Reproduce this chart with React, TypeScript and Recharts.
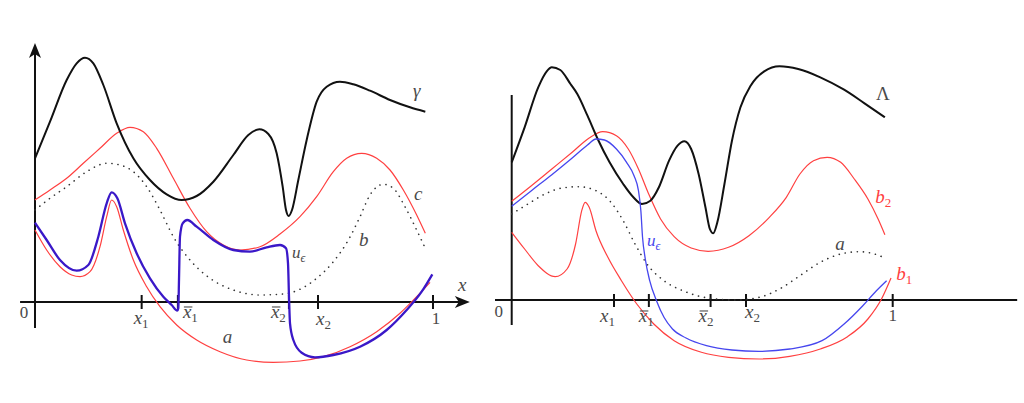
import React from 'react';
import { LineChart, Line, XAxis, YAxis, ReferenceLine, ReferenceDot } from 'recharts';

// ---------- data (left panel) ----------
const leftGamma = [
  { x: 0, y: 1.437 }, { x: 0.0377, y: 1.803 }, { x: 0.0796, y: 2.22 }, { x: 0.1047, y: 2.387 },
  { x: 0.1256, y: 2.443 }, { x: 0.1466, y: 2.387 }, { x: 0.1717, y: 2.17 }, { x: 0.2052, y: 1.787 },
  { x: 0.2471, y: 1.437 }, { x: 0.2889, y: 1.22 }, { x: 0.3308, y: 1.077 }, { x: 0.3685, y: 1.02 },
  { x: 0.4062, y: 1.06 }, { x: 0.4481, y: 1.203 }, { x: 0.4983, y: 1.47 }, { x: 0.536, y: 1.67 },
  { x: 0.5637, y: 1.727 }, { x: 0.5863, y: 1.68 }, { x: 0.6072, y: 1.487 }, { x: 0.6223, y: 1.153 },
  { x: 0.6307, y: 0.92 }, { x: 0.6374, y: 0.86 }, { x: 0.6457, y: 0.92 }, { x: 0.6616, y: 1.22 },
  { x: 0.6826, y: 1.62 }, { x: 0.7077, y: 2.003 }, { x: 0.7328, y: 2.153 }, { x: 0.7663, y: 2.203 },
  { x: 0.7998, y: 2.177 }, { x: 0.8417, y: 2.113 }, { x: 0.892, y: 2.02 }, { x: 0.9422, y: 1.947 },
  { x: 0.9807, y: 1.903 },
];
const leftC = [
  { x: 0, y: 1.02 }, { x: 0.0377, y: 1.12 }, { x: 0.0796, y: 1.237 }, { x: 0.1214, y: 1.387 },
  { x: 0.1633, y: 1.537 }, { x: 0.2052, y: 1.687 }, { x: 0.2387, y: 1.747 }, { x: 0.2722, y: 1.703 },
  { x: 0.3057, y: 1.537 }, { x: 0.3476, y: 1.237 }, { x: 0.3894, y: 0.937 }, { x: 0.4313, y: 0.703 },
  { x: 0.4732, y: 0.57 }, { x: 0.5151, y: 0.52 }, { x: 0.5653, y: 0.553 }, { x: 0.6156, y: 0.68 },
  { x: 0.6658, y: 0.853 }, { x: 0.7077, y: 1.053 }, { x: 0.7496, y: 1.303 }, { x: 0.7831, y: 1.437 },
  { x: 0.8208, y: 1.487 }, { x: 0.8585, y: 1.437 }, { x: 0.892, y: 1.32 }, { x: 0.9255, y: 1.12 },
  { x: 0.959, y: 0.87 }, { x: 0.9807, y: 0.687 },
];
const leftB = [
  { x: 0, y: 0.92 }, { x: 0.0377, y: 1.037 }, { x: 0.0796, y: 1.153 }, { x: 0.1298, y: 1.303 },
  { x: 0.1801, y: 1.387 }, { x: 0.2136, y: 1.37 }, { x: 0.2471, y: 1.303 }, { x: 0.2806, y: 1.153 },
  { x: 0.3141, y: 0.92 }, { x: 0.3476, y: 0.653 }, { x: 0.3894, y: 0.42 }, { x: 0.4397, y: 0.237 },
  { x: 0.4983, y: 0.12 }, { x: 0.5653, y: 0.07 }, { x: 0.624, y: 0.08 }, { x: 0.6658, y: 0.127 },
  { x: 0.7077, y: 0.237 }, { x: 0.7496, y: 0.403 }, { x: 0.7873, y: 0.62 }, { x: 0.8166, y: 0.853 },
  { x: 0.8417, y: 1.07 }, { x: 0.8752, y: 1.177 }, { x: 0.9003, y: 1.137 }, { x: 0.9296, y: 0.953 },
  { x: 0.959, y: 0.72 }, { x: 0.9807, y: 0.537 },
];
const leftA = [
  { x: 0, y: 0.72 }, { x: 0.0293, y: 0.52 }, { x: 0.0628, y: 0.353 }, { x: 0.0921, y: 0.27 },
  { x: 0.1131, y: 0.253 }, { x: 0.1382, y: 0.303 }, { x: 0.1633, y: 0.553 }, { x: 0.1801, y: 0.853 },
  { x: 0.1926, y: 1.02 }, { x: 0.2052, y: 0.953 }, { x: 0.2219, y: 0.72 }, { x: 0.2471, y: 0.42 },
  { x: 0.2806, y: 0.153 }, { x: 0.3141, y: -0.047 }, { x: 0.356, y: -0.23 }, { x: 0.4062, y: -0.38 },
  { x: 0.4648, y: -0.497 }, { x: 0.5318, y: -0.58 }, { x: 0.5988, y: -0.603 }, { x: 0.6658, y: -0.59 },
  { x: 0.7245, y: -0.547 }, { x: 0.7915, y: -0.447 }, { x: 0.8585, y: -0.297 }, { x: 0.9171, y: -0.113 },
  { x: 0.959, y: 0.053 }, { x: 0.9925, y: 0.197 },
];
const leftU = [
  { x: 0, y: 0.793 }, { x: 0.0293, y: 0.62 }, { x: 0.0628, y: 0.42 }, { x: 0.1047, y: 0.313 },
  { x: 0.134, y: 0.37 }, { x: 0.1591, y: 0.653 }, { x: 0.1801, y: 0.987 }, { x: 0.1926, y: 1.097 },
  { x: 0.2069, y: 1.037 }, { x: 0.2261, y: 0.787 }, { x: 0.2554, y: 0.487 }, { x: 0.2889, y: 0.237 },
  { x: 0.3224, y: 0.053 }, { x: 0.3434, y: -0.03 }, { x: 0.3576, y: -0.087 }, { x: 0.3601, y: -0.063 },
  { x: 0.3618, y: 0.22 }, { x: 0.3643, y: 0.653 }, { x: 0.371, y: 0.787 }, { x: 0.3827, y: 0.82 },
  { x: 0.4062, y: 0.753 }, { x: 0.4481, y: 0.62 }, { x: 0.4983, y: 0.52 }, { x: 0.5402, y: 0.503 },
  { x: 0.5821, y: 0.547 }, { x: 0.6156, y: 0.57 }, { x: 0.6307, y: 0.537 }, { x: 0.6357, y: 0.387 },
  { x: 0.6382, y: 0.053 }, { x: 0.6407, y: -0.213 }, { x: 0.6491, y: -0.38 }, { x: 0.67, y: -0.507 },
  { x: 0.7035, y: -0.553 }, { x: 0.7496, y: -0.53 }, { x: 0.8166, y: -0.447 }, { x: 0.8836, y: -0.28 },
  { x: 0.9338, y: -0.08 }, { x: 0.9715, y: 0.103 }, { x: 0.9983, y: 0.277 },
];
const leftTicks = [0.268, 0.359, 0.638, 0.711, 1];
const tickText = [
  { base: 'x', sub: '1', bar: false },
  { base: 'x', sub: '1', bar: true },
  { base: 'x', sub: '2', bar: true },
  { base: 'x', sub: '2', bar: false },
  { base: '1', sub: '', bar: false },
];

// ---------- data (right panel) ----------
const rightLambda = [
  { x: 0, y: 1.377 }, { x: 0.0339, y: 1.727 }, { x: 0.0696, y: 2.127 }, { x: 0.0919, y: 2.287 },
  { x: 0.1053, y: 2.327 }, { x: 0.1276, y: 2.3 }, { x: 0.1543, y: 2.16 }, { x: 0.1722, y: 2.06 },
  { x: 0.1989, y: 1.843 }, { x: 0.2257, y: 1.61 }, { x: 0.2569, y: 1.377 }, { x: 0.2926, y: 1.16 },
  { x: 0.3194, y: 1.027 }, { x: 0.3417, y: 0.96 }, { x: 0.364, y: 0.993 }, { x: 0.3863, y: 1.127 },
  { x: 0.413, y: 1.393 }, { x: 0.4353, y: 1.543 }, { x: 0.4532, y: 1.587 }, { x: 0.471, y: 1.51 },
  { x: 0.4906, y: 1.26 }, { x: 0.5085, y: 0.927 }, { x: 0.5201, y: 0.71 }, { x: 0.529, y: 0.667 },
  { x: 0.5397, y: 0.777 }, { x: 0.5584, y: 1.16 }, { x: 0.5781, y: 1.593 }, { x: 0.6004, y: 1.927 },
  { x: 0.6271, y: 2.143 }, { x: 0.6628, y: 2.287 }, { x: 0.7029, y: 2.337 }, { x: 0.752, y: 2.31 },
  { x: 0.81, y: 2.227 }, { x: 0.8724, y: 2.103 }, { x: 0.926, y: 1.967 }, { x: 0.9795, y: 1.827 },
];
const rightB2 = [
  { x: 0, y: 0.987 }, { x: 0.0517, y: 1.143 }, { x: 0.1053, y: 1.31 }, { x: 0.1588, y: 1.477 },
  { x: 0.2034, y: 1.62 }, { x: 0.2391, y: 1.683 }, { x: 0.2748, y: 1.643 }, { x: 0.306, y: 1.51 },
  { x: 0.3327, y: 1.31 }, { x: 0.3595, y: 1.06 }, { x: 0.3907, y: 0.81 }, { x: 0.4264, y: 0.633 },
  { x: 0.471, y: 0.52 }, { x: 0.5156, y: 0.487 }, { x: 0.5691, y: 0.527 }, { x: 0.6227, y: 0.643 },
  { x: 0.6762, y: 0.827 }, { x: 0.7208, y: 1.027 }, { x: 0.7565, y: 1.26 }, { x: 0.7921, y: 1.393 },
  { x: 0.8278, y: 1.427 }, { x: 0.8635, y: 1.377 }, { x: 0.8992, y: 1.21 }, { x: 0.9349, y: 1.01 },
  { x: 0.9617, y: 0.81 }, { x: 0.9795, y: 0.653 },
];
const rightU = [
  { x: 0, y: 0.937 }, { x: 0.0517, y: 1.093 }, { x: 0.1053, y: 1.253 }, { x: 0.1588, y: 1.42 },
  { x: 0.1989, y: 1.55 }, { x: 0.2212, y: 1.61 }, { x: 0.2435, y: 1.6 }, { x: 0.2748, y: 1.51 },
  { x: 0.3015, y: 1.377 }, { x: 0.3211, y: 1.243 }, { x: 0.3327, y: 1.093 }, { x: 0.339, y: 0.893 },
  { x: 0.3434, y: 0.627 }, { x: 0.3506, y: 0.41 }, { x: 0.3622, y: 0.193 }, { x: 0.38, y: -0.007 },
  { x: 0.3997, y: -0.173 }, { x: 0.422, y: -0.29 }, { x: 0.4576, y: -0.38 }, { x: 0.5112, y: -0.457 },
  { x: 0.5781, y: -0.5 }, { x: 0.6494, y: -0.513 }, { x: 0.7297, y: -0.49 }, { x: 0.8145, y: -0.407 },
  { x: 0.8725, y: -0.24 }, { x: 0.9215, y: -0.057 }, { x: 0.9572, y: 0.093 }, { x: 0.984, y: 0.193 },
];
const rightB1 = [
  { x: 0, y: 0.677 }, { x: 0.0339, y: 0.51 }, { x: 0.0696, y: 0.343 }, { x: 0.1142, y: 0.233 },
  { x: 0.1454, y: 0.31 }, { x: 0.1677, y: 0.56 }, { x: 0.1838, y: 0.893 }, { x: 0.1927, y: 0.977 },
  { x: 0.2034, y: 0.927 }, { x: 0.2212, y: 0.693 }, { x: 0.2525, y: 0.427 }, { x: 0.2881, y: 0.193 },
  { x: 0.3283, y: -0.04 }, { x: 0.3729, y: -0.24 }, { x: 0.4264, y: -0.407 }, { x: 0.4978, y: -0.523 },
  { x: 0.5691, y: -0.573 }, { x: 0.6494, y: -0.59 }, { x: 0.7297, y: -0.563 }, { x: 0.81, y: -0.49 },
  { x: 0.8814, y: -0.367 }, { x: 0.9349, y: -0.19 }, { x: 0.9706, y: 0.01 }, { x: 0.9956, y: 0.22 },
];
const rightA = [
  { x: 0, y: 0.86 }, { x: 0.0428, y: 0.96 }, { x: 0.0874, y: 1.06 }, { x: 0.132, y: 1.12 },
  { x: 0.1766, y: 1.133 }, { x: 0.2212, y: 1.093 }, { x: 0.2569, y: 0.993 }, { x: 0.2926, y: 0.793 },
  { x: 0.3238, y: 0.56 }, { x: 0.355, y: 0.36 }, { x: 0.3997, y: 0.193 }, { x: 0.4532, y: 0.087 },
  { x: 0.5156, y: 0.02 }, { x: 0.587, y: 0 }, { x: 0.6494, y: 0.027 }, { x: 0.703, y: 0.11 },
  { x: 0.7565, y: 0.243 }, { x: 0.81, y: 0.377 }, { x: 0.8635, y: 0.46 }, { x: 0.9126, y: 0.483 },
  { x: 0.9527, y: 0.46 }, { x: 0.9795, y: 0.42 },
];
const rightTicks = [0.2685, 0.36, 0.522, 0.615, 1];

// ---------- styling ----------
const SERIF = '"Liberation Serif", "DejaVu Serif", "Times New Roman", serif';
const GREY = '#4a4a4a';
const RED = '#ff4040';
const BLACK = '#111';

type Lbl = {
  base: string; sub?: string; subItalic?: boolean; bar?: boolean; color?: string;
  size?: number; italic?: boolean; dx?: number; dy?: number; anchor?: 'start' | 'middle';
};

const mathShape = (l: Lbl) => (p: any) => {
  const size = l.size ?? 19;
  const color = l.color ?? GREY;
  const x = (p.cx ?? 0) + (l.dx ?? 0);
  const y = (p.cy ?? 0) + (l.dy ?? 0);
  const italic = l.italic === false ? 'normal' : 'italic';
  return (
    <g>
      <text x={x} y={y} fill={color} textAnchor={l.anchor ?? 'start'}
        style={{ fontFamily: SERIF, fontSize: size, fontStyle: italic }}>
        {l.base}
        {l.sub ? (
          <tspan dy={4} style={{ fontFamily: SERIF, fontSize: Math.round(size * 0.7), fontStyle: l.subItalic ? 'italic' : 'normal' }}>{l.sub}</tspan>
        ) : null}
      </text>
      {l.bar ? (
        <line x1={x + 1} x2={x + size * 0.5} y1={y - size * 0.58} y2={y - size * 0.58} stroke={color} strokeWidth={1.1} />
      ) : null}
    </g>
  );
};

const arrowRight = (p: any) => (
  <path d={`M${p.cx},${p.cy} L${p.cx - 15},${p.cy - 6} L${p.cx - 11},${p.cy} L${p.cx - 15},${p.cy + 6} Z`} fill={BLACK} />
);
const arrowUp = (p: any) => (
  <path d={`M${p.cx},${p.cy} L${p.cx - 6},${p.cy + 15} L${p.cx},${p.cy + 11} L${p.cx + 6},${p.cy + 15} Z`} fill={BLACK} />
);

const dotted = { stroke: '#333', strokeWidth: 1.6, strokeDasharray: '0.1 6', strokeLinecap: 'round' as const };

function LeftPanel() {
  return (
    <LineChart width={480} height={403} margin={{ top: 40, right: 10, bottom: 31, left: 20 }}>
      <XAxis type="number" dataKey="x" domain={[-0.037688, 1.092965]} hide allowDataOverflow />
      <YAxis type="number" dataKey="y" domain={[-0.7, 2.62]} hide allowDataOverflow />
      <ReferenceLine segment={[{ x: -0.0375, y: 0 }, { x: 1.08, y: 0 }]} stroke={BLACK} strokeWidth={2} ifOverflow="visible" />
      <ReferenceLine segment={[{ x: 0, y: -0.26 }, { x: 0, y: 2.5 }]} stroke={BLACK} strokeWidth={2} ifOverflow="visible" />
      <ReferenceDot x={1.0925} y={0} r={0} shape={arrowRight} ifOverflow="visible" />
      <ReferenceDot x={0} y={2.59} r={0} shape={arrowUp} ifOverflow="visible" />
      {leftTicks.map((t) => (
        <ReferenceLine key={'lt' + t} segment={[{ x: t, y: -0.07 }, { x: t, y: 0.07 }]} stroke={BLACK} strokeWidth={2} ifOverflow="visible" />
      ))}
      <Line data={leftB} dataKey="y" type="monotone" dot={false} {...dotted} isAnimationActive={false} />
      <Line data={leftC} dataKey="y" type="monotone" dot={false} stroke={RED} strokeWidth={1.2} isAnimationActive={false} />
      <Line data={leftA} dataKey="y" type="monotone" dot={false} stroke={RED} strokeWidth={1.2} isAnimationActive={false} />
      <Line data={leftGamma} dataKey="y" type="monotone" dot={false} stroke={BLACK} strokeWidth={2} isAnimationActive={false} />
      <Line data={leftU} dataKey="y" type="monotone" dot={false} stroke="#3a18c8" strokeWidth={2.3} isAnimationActive={false} />
      {/* tick labels */}
      <ReferenceDot x={leftTicks[0]} y={0} r={0} ifOverflow="visible" shape={mathShape({ ...tickText[0], dx: -8, dy: 22 })} />
      <ReferenceDot x={leftTicks[1]} y={0} r={0} ifOverflow="visible" shape={mathShape({ ...tickText[1], dx: 5, dy: 16 })} />
      <ReferenceDot x={leftTicks[2]} y={0} r={0} ifOverflow="visible" shape={mathShape({ ...tickText[2], dx: -18, dy: 16 })} />
      <ReferenceDot x={leftTicks[3]} y={0} r={0} ifOverflow="visible" shape={mathShape({ ...tickText[3], dx: -2, dy: 23 })} />
      <ReferenceDot x={leftTicks[4]} y={0} r={0} ifOverflow="visible" shape={mathShape({ base: tickText[4].base, italic: false, size: 17, anchor: 'middle', dx: 3, dy: 22 })} />
      <ReferenceDot x={0} y={0} r={0} ifOverflow="visible" shape={mathShape({ base: '0', italic: false, size: 17, anchor: 'middle', dx: -11, dy: 16 })} />
      {/* curve labels */}
      <ReferenceDot x={0.95} y={2.05} r={0} ifOverflow="visible" shape={mathShape({ base: 'γ' })} />
      <ReferenceDot x={0.952} y={1.02} r={0} ifOverflow="visible" shape={mathShape({ base: 'c' })} />
      <ReferenceDot x={0.814} y={0.56} r={0} ifOverflow="visible" shape={mathShape({ base: 'b' })} />
      <ReferenceDot x={0.646} y={0.44} r={0} ifOverflow="visible" shape={mathShape({ base: 'u', sub: 'ϵ', subItalic: true, size: 17 })} />
      <ReferenceDot x={0.472} y={-0.41} r={0} ifOverflow="visible" shape={mathShape({ base: 'a' })} />
      <ReferenceDot x={1.063} y={0.11} r={0} ifOverflow="visible" shape={mathShape({ base: 'x' })} />
    </LineChart>
  );
}

function RightPanel() {
  return (
    <LineChart width={544} height={403} margin={{ top: 40, right: 4, bottom: 31, left: 10 }}>
      <XAxis type="number" dataKey="x" domain={[-0.05696, 1.33412]} hide allowDataOverflow />
      <YAxis type="number" dataKey="y" domain={[-0.72, 2.6]} hide allowDataOverflow />
      <ReferenceLine segment={[{ x: -0.0438, y: 0 }, { x: 1.3267, y: 0 }]} stroke={BLACK} strokeWidth={2} ifOverflow="visible" />
      <ReferenceLine segment={[{ x: 0, y: -0.25 }, { x: 0, y: 2.05 }]} stroke={BLACK} strokeWidth={2} ifOverflow="visible" />
      {rightTicks.map((t) => (
        <ReferenceLine key={'rt' + t} segment={[{ x: t, y: -0.07 }, { x: t, y: 0.06 }]} stroke={BLACK} strokeWidth={2} ifOverflow="visible" />
      ))}
      <Line data={rightA} dataKey="y" type="monotone" dot={false} {...dotted} isAnimationActive={false} />
      <Line data={rightB2} dataKey="y" type="monotone" dot={false} stroke={RED} strokeWidth={1.2} isAnimationActive={false} />
      <Line data={rightB1} dataKey="y" type="monotone" dot={false} stroke={RED} strokeWidth={1.2} isAnimationActive={false} />
      <Line data={rightLambda} dataKey="y" type="monotone" dot={false} stroke={BLACK} strokeWidth={2} isAnimationActive={false} />
      <Line data={rightU} dataKey="y" type="monotone" dot={false} stroke="#4646ee" strokeWidth={1.3} isAnimationActive={false} />
      {/* tick labels */}
      <ReferenceDot x={rightTicks[0]} y={0} r={0} ifOverflow="visible" shape={mathShape({ ...tickText[0], dx: -14, dy: 22 })} />
      <ReferenceDot x={rightTicks[1]} y={0} r={0} ifOverflow="visible" shape={mathShape({ ...tickText[1], dx: -10, dy: 22 })} />
      <ReferenceDot x={rightTicks[2]} y={0} r={0} ifOverflow="visible" shape={mathShape({ ...tickText[2], dx: -12, dy: 22 })} />
      <ReferenceDot x={rightTicks[3]} y={0} r={0} ifOverflow="visible" shape={mathShape({ ...tickText[3], dx: -1, dy: 18 })} />
      <ReferenceDot x={rightTicks[4]} y={0} r={0} ifOverflow="visible" shape={mathShape({ base: tickText[4].base, italic: false, size: 17, anchor: 'middle', dx: 0, dy: 21 })} />
      <ReferenceDot x={0} y={0} r={0} ifOverflow="visible" shape={mathShape({ base: '0', italic: false, size: 17, anchor: 'middle', dx: -13, dy: 17 })} />
      {/* curve labels */}
      <ReferenceDot x={0.956} y={2.0} r={0} ifOverflow="visible" shape={mathShape({ base: 'Λ', italic: false })} />
      <ReferenceDot x={0.954} y={0.97} r={0} ifOverflow="visible" shape={mathShape({ base: 'b', sub: '2', color: RED })} />
      <ReferenceDot x={0.849} y={0.5} r={0} ifOverflow="visible" shape={mathShape({ base: 'a' })} />
      <ReferenceDot x={1.009} y={0.2} r={0} ifOverflow="visible" shape={mathShape({ base: 'b', sub: '1', color: RED })} />
      <ReferenceDot x={0.355} y={0.54} r={0} ifOverflow="visible" shape={mathShape({ base: 'u', sub: 'ϵ', subItalic: true, size: 17, color: '#4646ee' })} />
    </LineChart>
  );
}

export default function App() {
  return (
    <div style={{ position: 'absolute', left: 0, top: 0, width: 1024, height: 403, background: '#fff', overflow: 'hidden' }}>
      <div style={{ position: 'absolute', left: 0, top: 0 }}>
        <LeftPanel />
      </div>
      <div style={{ position: 'absolute', left: 480, top: 0 }}>
        <RightPanel />
      </div>
    </div>
  );
}
